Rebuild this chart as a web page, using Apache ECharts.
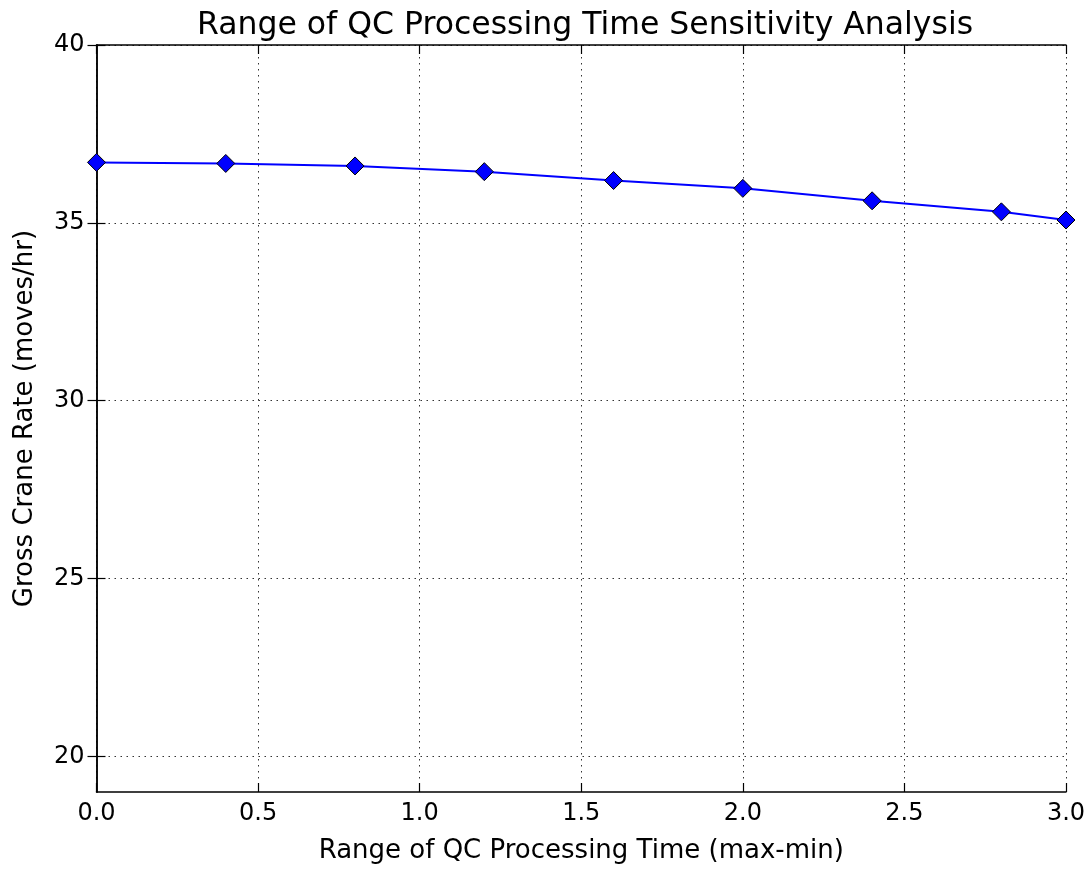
<!DOCTYPE html>
<html><head><meta charset="utf-8">
<script src="https://cdn.jsdelivr.net/npm/echarts@6/dist/echarts.min.js"></script>
<style>html,body{margin:0;padding:0;background:#fff}#c{width:1088px;height:869px}</style>
</head><body><div id="c"></div>
<script>
const xValues = [0, 0.4, 0.8, 1.2, 1.6, 2.0, 2.4, 2.8, 3.0];
const grossCraneRate = [36.70, 36.67, 36.60, 36.44, 36.19, 35.97, 35.62, 35.31, 35.08];
const xTicks = [0, 0.5, 1.0, 1.5, 2.0, 2.5, 3.0];
const yTicks = [20, 25, 30, 35, 40];

const FONT = 'DejaVu Sans';
const chart = echarts.init(document.getElementById('c'), null, {renderer: 'canvas'});
const gridLine = {show: true, lineStyle: {color: '#000', width: 1, type: [1.5, 4.5], opacity: 0.8}};
const axisLine = {show: true, lineStyle: {color: '#000', width: 1.5}};
const tick = {show: true, inside: true, length: 9, lineStyle: {color: '#000', width: 1.2}};
const yTick = Object.assign({}, tick, {customValues: yTicks});
chart.setOption({
  animation: false,
  backgroundColor: '#fff',
  title: {
    text: 'Range of QC Processing Time Sensitivity Analysis',
    left: 580, top: 5, textAlign: 'center',
    textStyle: {fontFamily: FONT, fontSize: 31.5, fontWeight: 'normal', color: '#000'}
  },
  grid: {left: 96.5, right: 22, top: 45, bottom: 77, containLabel: false, outerBoundsMode: 'none'},
  xAxis: [{
    type: 'value', min: 0, max: 3, interval: 0.5,
    axisLine: axisLine, axisTick: tick, splitLine: gridLine,
    axisLabel: {fontFamily: FONT, fontSize: 24, color: '#000', margin: 10,
      formatter: v => v.toFixed(1)},
    name: 'Range of QC Processing Time (max-min)', nameLocation: 'middle', nameGap: 46,
    nameTextStyle: {fontFamily: FONT, fontSize: 26, color: '#000'}
  }, {
    type: 'value', min: 0, max: 3, interval: 0.5, position: 'top',
    axisLine: axisLine, axisTick: tick, splitLine: {show: false}, axisLabel: {show: false}
  }],
  yAxis: [{
    type: 'value', min: 19, max: 40, splitNumber: 4,
    axisLine: axisLine, axisTick: yTick, splitLine: gridLine,
    axisLabel: {fontFamily: FONT, fontSize: 24, color: '#000', margin: 12, customValues: yTicks,
      formatter: v => String(v)},
    name: 'Gross Crane Rate (moves/hr)', nameLocation: 'middle', nameGap: 58,
    nameTextStyle: {fontFamily: FONT, fontSize: 26, color: '#000'}
  }, {
    type: 'value', min: 19, max: 40, splitNumber: 4, position: 'right',
    axisLine: axisLine, axisTick: yTick, splitLine: {show: false}, axisLabel: {show: false}
  }],
  series: [{
    type: 'line',
    data: xValues.map((x, i) => [x, grossCraneRate[i]]),
    symbol: 'diamond', symbolSize: 18,
    lineStyle: {color: '#0000ff', width: 2},
    itemStyle: {color: '#0000ff', borderColor: '#000', borderWidth: 1},
    clip: true
  }]
});
</script></body></html>
